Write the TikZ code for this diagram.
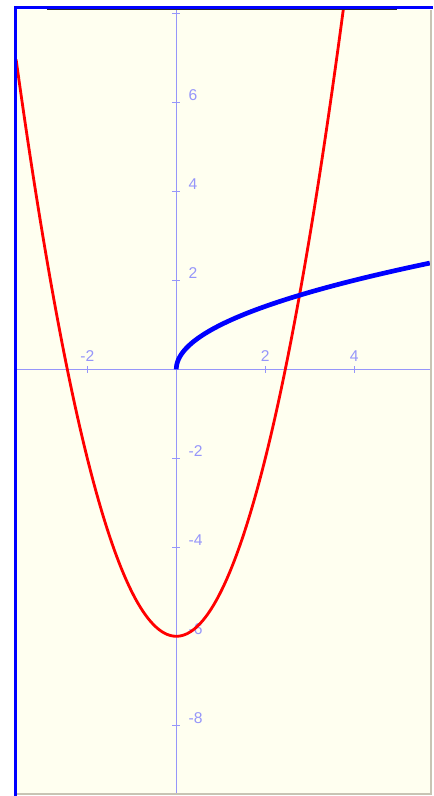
\documentclass[tikz,border=0pt]{standalone}
\usepackage{fontspec}
\setmainfont{Liberation Sans}
\usepackage{xcolor}
\usepackage{tikz}
\definecolor{paper}{RGB}{255,255,240}
\definecolor{axisblue}{RGB}{150,150,250}
\definecolor{rim}{RGB}{200,196,180}
\begin{document}
\begin{tikzpicture}[axis/.style={axisblue,line width=1pt},
  lbl/.style={text=axisblue,font=\fontsize{10}{11}\selectfont,inner sep=0pt}]
\useasboundingbox (-3.962,-9.589) rectangle (5.769,8.299);
\fill[white](-3.962,-9.589) rectangle (5.769,8.299);
\fill[paper](-3.58,-9.521) rectangle (5.701,8.074);
\draw[rim,line width=1.3pt](-3.58,-9.544)--(5.724,-9.544)--(5.724,8.074);
% axes
\draw[axis](-3.58,0)--(5.701,0);
\draw[axis](0,-9.521)--(0,8.074);
\foreach \x in {-2,2,4}
  \draw[axis](\x,-0.075)--(\x,0.075) node[lbl,anchor=base] (xl\x) at (\x,0.18) {\x};
\foreach \y in {6,4,2,-2,-4,-6,-8}
  \draw[axis](-0.09,\y)--(0.09,\y) node[lbl,anchor=base west] (yl\y) at (0.26,\y+0.04) {\y};
\draw[axis](-0.09,8)--(0.09,8);
% curves
\begin{scope}
\clip(-3.58,-9.521) rectangle (5.701,8.074);
\draw[red,line width=1.8pt,domain=-3.6:3.76,smooth,samples=120,variable=\x]plot({\x},{\x*\x-6});
\draw[blue,line width=3pt,domain=0:2.3877,smooth,samples=80,variable=\t]plot({\t*\t},{\t});
\end{scope}
% frame
\draw[black!85,line width=0.7pt](-2.906,8.085)--(4.960,8.085);
\draw[blue,line width=1.9pt](-3.613,-9.589)--(-3.613,8.130)--(5.769,8.130);
\end{tikzpicture}
\end{document}
